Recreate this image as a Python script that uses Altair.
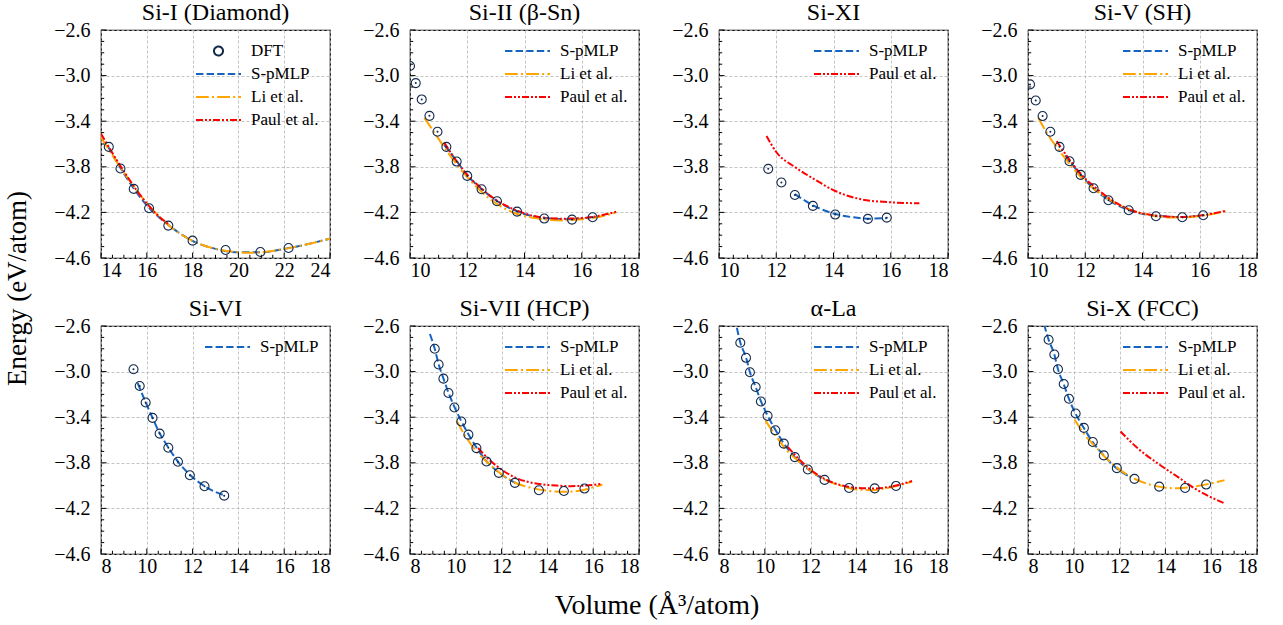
import altair as alt
import pandas as pd
import numpy as np

FONT = "Liberation Serif, DejaVu Serif, Times New Roman, serif"
NAVY = "#13294b"
BLUE = "#1565c0"
ORANGE = "#ffa500"
RED = "#ff0000"

# ---------------- data ----------------
# Si-I (Diamond)
SI_I_DFT_V = [14.34, 14.85, 15.43, 16.10, 16.94, 18.00, 19.44, 20.96, 22.19]
SI_I_DFT_E = [-3.625, -3.815, -3.994, -4.164, -4.316, -4.448, -4.530, -4.547, -4.512]
SI_I_SPMLP_V = [14.3, 14.85, 15.43, 16.1, 16.94, 18.0, 19.0, 20.0, 21.0, 22.0, 23.0, 24.0]
SI_I_SPMLP_E = [-3.62, -3.81, -3.99, -4.16, -4.31, -4.45, -4.52, -4.55, -4.55, -4.52, -4.48, -4.43]
SI_I_LI_V = [14.0, 14.5, 15.0, 15.5, 16.0, 16.5, 17.0, 18.0, 19.0, 20.0, 20.5, 21.0, 22.0, 23.0, 24.0]
SI_I_LI_E = [-3.54, -3.70, -3.85, -3.99, -4.12, -4.23, -4.32, -4.45, -4.52, -4.55, -4.555, -4.55, -4.52, -4.48, -4.43]
SI_I_PAUL_V = [14.0, 14.5, 15.0, 15.5, 16.0, 16.5, 17.0]
SI_I_PAUL_E = [-3.51, -3.68, -3.84, -3.99, -4.12, -4.23, -4.31]

# Si-II (beta-Sn)
SI_II_DFT_V = [10.0, 10.20, 10.41, 10.68, 10.96, 11.27, 11.63, 12.00, 12.50, 13.04, 13.74, 14.69, 15.66, 16.38]
SI_II_DFT_E = [-2.916, -3.066, -3.209, -3.353, -3.493, -3.625, -3.754, -3.880, -3.997, -4.102, -4.193, -4.254, -4.263, -4.243]
SI_II_SPMLP_V = [11.2, 11.63, 12.0, 12.5, 13.04, 13.74, 14.69, 15.66, 16.38]
SI_II_SPMLP_E = [-3.61, -3.75, -3.875, -3.995, -4.10, -4.19, -4.25, -4.26, -4.24]
SI_II_LI_V = [10.5, 10.8, 11.2, 11.6, 12.0, 12.5, 13.0, 13.7, 14.5, 15.3, 16.0, 16.6, 17.2]
SI_II_LI_E = [-3.37, -3.48, -3.63, -3.77, -3.89, -4.02, -4.12, -4.21, -4.255, -4.27, -4.26, -4.24, -4.20]
SI_II_PAUL_V = [11.2, 11.6, 12.0, 12.5, 13.0, 13.7, 14.5, 15.3, 16.0, 16.6, 17.2]
SI_II_PAUL_E = [-3.59, -3.74, -3.87, -3.99, -4.09, -4.18, -4.24, -4.255, -4.25, -4.23, -4.195]

# Si-XI
SI_XI_DFT_V = [11.72, 12.18, 12.65, 13.28, 14.06, 15.20, 15.86]
SI_XI_DFT_E = [-3.818, -3.938, -4.047, -4.143, -4.219, -4.257, -4.246]
SI_XI_SPMLP_V = [12.65, 13.3, 14.0, 14.6, 15.2, 15.86]
SI_XI_SPMLP_E = [-4.04, -4.14, -4.21, -4.24, -4.255, -4.25]
SI_XI_PAUL_V = [11.66, 12.0, 12.64, 13.34, 14.04, 14.97, 15.9, 17.0]
SI_XI_PAUL_E = [-3.53, -3.67, -3.80, -3.91, -4.01, -4.085, -4.11, -4.12]

# Si-V (SH)
SI_V_DFT_V = [10.07, 10.27, 10.51, 10.78, 11.10, 11.45, 11.84, 12.29, 12.81, 13.52, 14.47, 15.39, 16.12]
SI_V_DFT_E = [-3.077, -3.218, -3.355, -3.493, -3.625, -3.751, -3.871, -3.988, -4.093, -4.181, -4.234, -4.243, -4.225]
SI_V_SPMLP_V = [11.3, 11.84, 12.29, 12.81, 13.52, 14.47, 15.39, 16.12]
SI_V_SPMLP_E = [-3.70, -3.87, -3.99, -4.09, -4.18, -4.23, -4.24, -4.225]
SI_V_LI_V = [10.36, 10.7, 11.1, 11.5, 12.0, 12.5, 13.0, 13.6, 14.3, 15.0, 15.7, 16.3, 16.9]
SI_V_LI_E = [-3.37, -3.52, -3.66, -3.79, -3.93, -4.03, -4.11, -4.18, -4.225, -4.245, -4.24, -4.22, -4.19]
SI_V_PAUL_V = [11.0, 11.4, 11.8, 12.3, 12.8, 13.5, 14.4, 15.3, 16.1, 16.92]
SI_V_PAUL_E = [-3.575, -3.72, -3.85, -3.97, -4.07, -4.17, -4.225, -4.24, -4.225, -4.185]

# Si-VI
SI_VI_DFT_V = [9.42, 9.69, 9.95, 10.25, 10.56, 10.94, 11.36, 11.88, 12.52, 13.38]
SI_VI_DFT_E = [-2.979, -3.126, -3.271, -3.406, -3.544, -3.668, -3.791, -3.909, -4.006, -4.088]
SI_VI_SPMLP_V = [9.6, 9.95, 10.25, 10.56, 10.94, 11.36, 11.88, 12.52, 13.45]
SI_VI_SPMLP_E = [-3.10, -3.27, -3.405, -3.54, -3.665, -3.79, -3.905, -4.005, -4.09]

# Si-VII (HCP)
SI_VII_DFT_V = [9.08, 9.25, 9.46, 9.68, 9.94, 10.24, 10.55, 10.90, 11.34, 11.88, 12.58, 13.63, 14.72, 15.62]
SI_VII_DFT_E = [-2.80, -2.938, -3.062, -3.188, -3.315, -3.438, -3.553, -3.671, -3.788, -3.888, -3.976, -4.041, -4.047, -4.026]
SI_VII_SPMLP_V = [8.87, 9.08, 9.25, 9.46, 9.68, 9.94, 10.24, 10.55, 10.9, 11.34, 11.88, 12.58, 12.75]
SI_VII_SPMLP_E = [-2.67, -2.80, -2.935, -3.06, -3.185, -3.31, -3.435, -3.55, -3.665, -3.785, -3.885, -3.975, -3.99]
SI_VII_LI_V = [10.03, 10.4, 10.9, 11.4, 12.0, 12.6, 13.3, 14.0, 14.7, 15.4, 16.0, 16.4]
SI_VII_LI_E = [-3.43, -3.56, -3.70, -3.80, -3.90, -3.975, -4.02, -4.045, -4.055, -4.045, -4.015, -3.99]
SI_VII_PAUL_V = [10.97, 11.5, 12.0, 12.6, 13.2, 13.8, 14.4, 15.0, 15.6, 16.37]
SI_VII_PAUL_E = [-3.67, -3.78, -3.86, -3.93, -3.97, -3.99, -4.0, -4.005, -4.0, -3.985]

# alpha-La
LA_DFT_V = [8.93, 9.18, 9.35, 9.60, 9.83, 10.12, 10.46, 10.83, 11.31, 11.88, 12.61, 13.68, 14.80, 15.73]
LA_DFT_E = [-2.747, -2.879, -3.006, -3.135, -3.262, -3.388, -3.515, -3.632, -3.750, -3.859, -3.950, -4.021, -4.024, -4.003]
LA_SPMLP_V = [8.78, 8.93, 9.18, 9.35, 9.6, 9.83, 10.12, 10.46, 10.83, 11.31, 11.88, 12.62]
LA_SPMLP_E = [-2.615, -2.745, -2.875, -3.005, -3.135, -3.26, -3.385, -3.51, -3.63, -3.75, -3.855, -3.95]
LA_LI_V = [10.03, 10.5, 11.0, 11.5, 12.0, 12.6, 13.3, 14.0, 14.7, 15.4, 16.0, 16.43]
LA_LI_E = [-3.43, -3.57, -3.70, -3.79, -3.87, -3.945, -4.0, -4.035, -4.04, -4.02, -3.99, -3.965]
LA_PAUL_V = [11.0, 11.5, 12.0, 12.6, 13.3, 14.0, 14.8, 15.6, 16.43]
LA_PAUL_E = [-3.66, -3.77, -3.86, -3.94, -3.995, -4.02, -4.025, -4.005, -3.96]

# Si-X (FCC)
SI_X_DFT_V = [8.90, 9.15, 9.31, 9.56, 9.79, 10.08, 10.44, 10.83, 11.31, 11.88, 12.65, 13.73, 14.86, 15.78]
SI_X_DFT_E = [-2.721, -2.850, -2.979, -3.109, -3.238, -3.368, -3.494, -3.618, -3.735, -3.847, -3.941, -4.009, -4.021, -3.991]
SI_X_SPMLP_V = [8.7, 8.9, 9.15, 9.31, 9.56, 9.79, 10.08, 10.44, 10.83, 11.31, 11.88, 12.5]
SI_X_SPMLP_E = [-2.585, -2.72, -2.85, -2.98, -3.11, -3.24, -3.37, -3.495, -3.62, -3.735, -3.85, -3.93]
SI_X_LI_V = [10.03, 10.5, 11.0, 11.34, 12.0, 12.65, 13.3, 13.81, 14.54, 15.41, 16.0, 16.58]
SI_X_LI_E = [-3.42, -3.56, -3.67, -3.745, -3.86, -3.94, -3.99, -4.012, -4.024, -4.003, -3.98, -3.953]
SI_X_PAUL_V = [12.04, 12.8, 13.67, 14.54, 15.41, 16.55]
SI_X_PAUL_E = [-3.526, -3.674, -3.806, -3.924, -4.041, -4.153]

Y_TICKS = [-4.6, -4.2, -3.8, -3.4, -3.0, -2.6]
Y_DOMAIN = [-4.6, -2.6]

# ---------------- styling ----------------
W, H = 229, 228
SERIES = ["S-pMLP", "Li et al.", "Paul et al."]
COLORS = {"DFT": NAVY, "S-pMLP": BLUE, "Li et al.": ORANGE, "Paul et al.": RED}
DASHES = {"DFT": [1, 0], "S-pMLP": [7.4, 3.2], "Li et al.": [12.8, 3.2, 2, 3.2],
          "Paul et al.": [7, 2, 2, 2, 2, 2]}
SYM = 2025  # legend symbol box: sqrt -> 45 px
CIRCLE_PATH = "M0.2,0A0.2,0.2,0,1,1,-0.2,0A0.2,0.2,0,1,1,0.2,0Z"
SHAPES = {"DFT": CIRCLE_PATH, "S-pMLP": "stroke", "Li et al.": "stroke", "Paul et al.": "stroke"}
TICK_FS = 20


def make_panel(title, xdom, xticks, xminor_step, dft_v, dft_e, curves, dft_legend=False, dots=False):
    names = (["DFT"] if dft_legend else []) + [n for n in SERIES if n in curves]
    legend = alt.Legend(title=None, orient="top-right", offset=11, padding=0,
                        labelFont=FONT, labelFontSize=17, labelColor="black",
                        symbolSize=SYM, symbolStrokeWidth=2, labelOffset=9,
                        rowPadding=3, clipHeight=20, symbolFillColor="transparent")
    cscale = alt.Scale(domain=names, range=[COLORS[n] for n in names])
    dscale = alt.Scale(domain=names, range=[DASHES[n] for n in names])
    sscale = alt.Scale(domain=names, range=[SHAPES[n] for n in names])

    X = alt.X("v:Q", scale=alt.Scale(domain=xdom, nice=False, zero=False),
              axis=alt.Axis(values=xticks, format="d", title=None, labelFont=FONT,
                            labelFontSize=TICK_FS, labelPadding=2))
    Y = alt.Y("e:Q", scale=alt.Scale(domain=Y_DOMAIN, nice=False, zero=False),
              axis=alt.Axis(values=Y_TICKS, format=".1f", title=None, labelFont=FONT,
                            labelFontSize=TICK_FS, labelPadding=11))

    layers = []
    for n in SERIES:
        if n not in curves:
            continue
        cv, ce = curves[n]
        df = pd.DataFrame({"v": cv, "e": ce, "s": n})
        layers.append(
            alt.Chart(df).mark_line(strokeWidth=2, clip=True, interpolate="monotone").encode(
                x=X, y=Y,
                color=alt.Color("s:N", scale=cscale, legend=legend),
                strokeDash=alt.StrokeDash("s:N", scale=dscale, legend=legend),
            )
        )
    ddf = pd.DataFrame({"v": dft_v, "e": dft_e, "s": "DFT"})
    if dft_legend:
        pts = alt.Chart(ddf).mark_point(filled=False, size=SYM, strokeWidth=1.1, clip=True,
                                        opacity=1).encode(
            x=X, y=Y,
            color=alt.Color("s:N", scale=cscale, legend=legend),
            shape=alt.Shape("s:N", scale=sscale, legend=legend),
        )
    else:
        pts = alt.Chart(ddf).mark_point(filled=False, shape="circle", size=81, color=NAVY,
                                        strokeWidth=1.1, clip=True, opacity=1).encode(x=X, y=Y)
    layers.append(pts)
    if dots:
        layers.append(alt.Chart(ddf).mark_circle(size=4, color=NAVY, opacity=1, clip=True)
                      .encode(x=X, y=Y))

    # inward ticks (bottom and left), major and minor
    minor_x = [round(t, 3) for t in np.arange(xdom[0], xdom[1] + 1e-9, xminor_step)
               if all(abs(t - m) > 1e-6 for m in xticks)]
    minor_y = [round(t, 3) for t in np.arange(-4.6, -2.6 + 1e-9, 0.1)
               if all(abs(t - m) > 1e-6 for m in Y_TICKS)]
    for vals, ln in ((xticks, 5.5), (minor_x, 3.2)):
        layers.append(alt.Chart(pd.DataFrame({"v": vals})).mark_rule(color="black", strokeWidth=1)
                      .encode(x=X, y=alt.value(H), y2=alt.value(H - ln)))
    for vals, ln in ((Y_TICKS, 5.5), (minor_y, 3.2)):
        layers.append(alt.Chart(pd.DataFrame({"e": vals})).mark_rule(color="black", strokeWidth=1)
                      .encode(y=Y, x=alt.value(0), x2=alt.value(ln)))

    return alt.layer(*layers).properties(
        width=W, height=H,
        title=alt.TitleParams(title, font=FONT, fontSize=24, fontWeight="normal", color="black", offset=-5),
    )


X8 = [8, 10, 12, 14, 16, 18]
X10 = [10, 12, 14, 16, 18]
X14 = [14, 16, 18, 20, 22, 24]

p1 = make_panel("Si-I (Diamond)", [14, 24], X14, 0.5, SI_I_DFT_V, SI_I_DFT_E,
                {"S-pMLP": (SI_I_SPMLP_V, SI_I_SPMLP_E), "Li et al.": (SI_I_LI_V, SI_I_LI_E),
                 "Paul et al.": (SI_I_PAUL_V, SI_I_PAUL_E)}, dft_legend=True)
p2 = make_panel("Si-II (β-Sn)", [10, 18], X10, 0.5, SI_II_DFT_V, SI_II_DFT_E,
                {"S-pMLP": (SI_II_SPMLP_V, SI_II_SPMLP_E), "Li et al.": (SI_II_LI_V, SI_II_LI_E),
                 "Paul et al.": (SI_II_PAUL_V, SI_II_PAUL_E)}, dots=True)
p3 = make_panel("Si-XI", [10, 18], X10, 0.5, SI_XI_DFT_V, SI_XI_DFT_E,
                {"S-pMLP": (SI_XI_SPMLP_V, SI_XI_SPMLP_E), "Paul et al.": (SI_XI_PAUL_V, SI_XI_PAUL_E)},
                dots=True)
p4 = make_panel("Si-V (SH)", [10, 18], X10, 0.5, SI_V_DFT_V, SI_V_DFT_E,
                {"S-pMLP": (SI_V_SPMLP_V, SI_V_SPMLP_E), "Li et al.": (SI_V_LI_V, SI_V_LI_E),
                 "Paul et al.": (SI_V_PAUL_V, SI_V_PAUL_E)}, dots=True)
p5 = make_panel("Si-VI", [8, 18], X8, 0.5, SI_VI_DFT_V, SI_VI_DFT_E,
                {"S-pMLP": (SI_VI_SPMLP_V, SI_VI_SPMLP_E)}, dots=True)
p6 = make_panel("Si-VII (HCP)", [8, 18], X8, 0.5, SI_VII_DFT_V, SI_VII_DFT_E,
                {"S-pMLP": (SI_VII_SPMLP_V, SI_VII_SPMLP_E), "Li et al.": (SI_VII_LI_V, SI_VII_LI_E),
                 "Paul et al.": (SI_VII_PAUL_V, SI_VII_PAUL_E)})
p7 = make_panel("α-La", [8, 18], X8, 0.5, LA_DFT_V, LA_DFT_E,
                {"S-pMLP": (LA_SPMLP_V, LA_SPMLP_E), "Li et al.": (LA_LI_V, LA_LI_E),
                 "Paul et al.": (LA_PAUL_V, LA_PAUL_E)})
p8 = make_panel("Si-X (FCC)", [8, 18], X8, 0.5, SI_X_DFT_V, SI_X_DFT_E,
                {"S-pMLP": (SI_X_SPMLP_V, SI_X_SPMLP_E), "Li et al.": (SI_X_LI_V, SI_X_LI_E),
                 "Paul et al.": (SI_X_PAUL_V, SI_X_PAUL_E)})

IND = dict(color="independent", strokeDash="independent", shape="independent")

grid = alt.ConcatChart(concat=[p1, p2, p3, p4, p5, p6, p7, p8], columns=4,
                       spacing={"row": 68, "column": 80}, bounds="flush").resolve_scale(**IND).properties(
    title=alt.TitleParams("Energy (eV/atom)", orient="left", anchor="middle", font=FONT,
                          fontSize=27, fontWeight="normal", color="black", offset=21)
)

chart = alt.VConcatChart(vconcat=[grid]).resolve_scale(**IND).properties(
    title=alt.TitleParams("Volume (Å³/atom)", orient="bottom", anchor="middle", font=FONT,
                          fontSize=28, fontWeight="normal", color="black", offset=15, dx=26),
    background="white",
    padding={"left": 4, "top": 0, "right": 5, "bottom": 5},
).configure_view(
    stroke="black", strokeWidth=1.2
).configure_axis(
    labelFont=FONT, labelFontSize=TICK_FS, labelColor="black",
    grid=True, gridDash=[3, 2], gridColor="#b5b5b5", gridWidth=0.8,
    ticks=False, domain=False,
).configure_legend(
    labelFont=FONT
).configure_title(
    font=FONT, fontWeight="normal"
)

chart.save("out.html", embed_options={"renderer": "svg", "actions": False})
